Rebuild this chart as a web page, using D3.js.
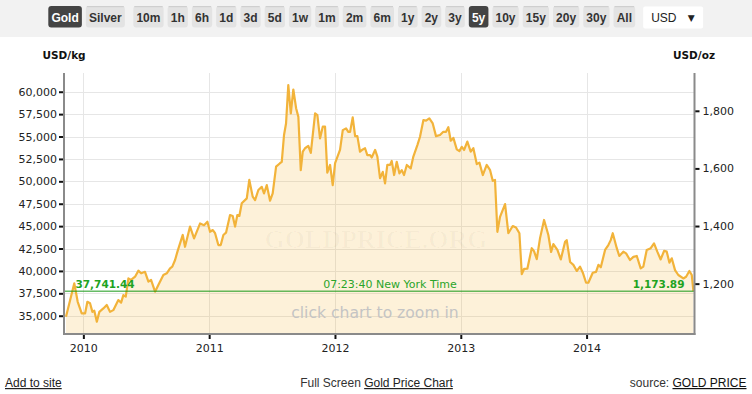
<!DOCTYPE html>
<html><head><meta charset="utf-8">
<script src="https://cdn.jsdelivr.net/npm/d3@7"></script>
<style>
body{margin:0;background:#fff;}
svg{display:block;}
</style></head><body>
<svg id="c" width="752" height="394"></svg>
<script>
// ---------- data ----------
const metals = ["Gold", "Silver"];
const ranges = ["10m","1h","6h","1d","3d","5d","1w","1m","2m","6m","1y","2y","3y","5y","10y","15y","20y","30y","All"];
const activeMetal = "Gold";
const activeRange = "5y";
const currency = "USD";

// decimal-year time of each sample
const years = [
2009.862,2009.928,2009.955,2009.987,2010.014,2010.032,2010.053,2010.072,2010.087,2010.107,
2010.127,2010.159,2010.186,2010.212,2010.238,2010.278,2010.300,2010.318,2010.337,2010.358,
2010.379,2010.411,2010.437,2010.459,2010.490,2010.517,2010.538,2010.570,2010.596,2010.636,
2010.663,2010.689,2010.707,2010.729,2010.749,2010.790,2010.808,2010.848,2010.880,2010.928,
2010.959,2010.986,2011.007,2011.029,2011.047,2011.073,2011.092,2011.113,2011.134,2011.166,
2011.187,2011.206,2011.224,2011.240,2011.259,2011.299,2011.319,2011.346,2011.365,2011.391,
2011.418,2011.436,2011.458,2011.484,2011.505,2011.532,2011.563,2011.577,2011.595,2011.611,
2011.629,2011.649,2011.669,2011.691,2011.709,2011.728,2011.744,2011.762,2011.788,2011.808,
2011.842,2011.860,2011.881,2011.903,2011.921,2011.939,2011.961,2011.982,2012.001,2012.040,
2012.062,2012.088,2012.106,2012.120,2012.141,2012.160,2012.178,2012.199,2012.221,2012.239,
2012.257,2012.279,2012.292,2012.319,2012.337,2012.358,2012.380,2012.398,2012.416,2012.438,
2012.451,2012.470,2012.491,2012.512,2012.531,2012.549,2012.571,2012.602,2012.623,2012.655,
2012.676,2012.703,2012.724,2012.750,2012.777,2012.803,2012.835,2012.861,2012.883,2012.901,
2012.920,2012.941,2012.968,2012.989,2013.008,2013.026,2013.052,2013.079,2013.100,2013.127,
2013.148,2013.175,2013.206,2013.233,2013.254,2013.272,2013.291,2013.312,2013.352,2013.378,
2013.413,2013.439,2013.466,2013.485,2013.503,2013.529,2013.564,2013.582,2013.604,2013.630,
2013.662,2013.696,2013.718,2013.736,2013.768,2013.795,2013.829,2013.842,2013.869,2013.895,
2013.922,2013.948,2013.970,2013.996,2014.014,2014.049,2014.075,2014.094,2014.113,2014.147,
2014.173,2014.192,2014.208,2014.240,2014.260,2014.292,2014.314,2014.345,2014.372,2014.399,
2014.430,2014.451,2014.478,2014.510,2014.536,2014.562,2014.589,2014.616,2014.637,2014.658,
2014.677,2014.703,2014.729,2014.769,2014.791,2014.817,2014.836,2014.849
];
// gold price, USD per troy ounce
const priceOz = [
1085,1201,1137,1097,1097,1137,1132,1102,1106,1068,
1102,1114,1126,1102,1108,1143,1134,1160,1155,1218,
1213,1224,1245,1236,1241,1207,1213,1172,1195,1230,
1236,1253,1259,1282,1313,1369,1328,1398,1357,1409,
1403,1415,1380,1386,1375,1334,1334,1369,1377,1438,
1435,1398,1438,1435,1479,1496,1560,1502,1490,1525,
1536,1513,1542,1488,1513,1606,1618,1623,1716,1756,
1889,1791,1874,1809,1779,1594,1658,1670,1678,1654,
1791,1785,1704,1745,1745,1585,1612,1542,1618,1664,
1733,1739,1727,1727,1777,1712,1712,1658,1666,1670,
1646,1646,1638,1664,1641,1566,1588,1548,1612,1612,
1626,1577,1623,1583,1594,1577,1612,1600,1641,1681,
1710,1768,1766,1774,1756,1712,1716,1727,1727,1743,
1696,1706,1666,1660,1675,1664,1693,1658,1670,1615,
1620,1577,1612,1594,1557,1560,1380,1432,1476,1375,
1400,1395,1375,1233,1251,1252,1323,1313,1285,1358,
1421,1369,1310,1337,1317,1284,1345,1351,1275,1265,
1244,1259,1238,1203,1203,1238,1241,1265,1257,1317,
1334,1351,1375,1323,1296,1311,1305,1282,1293,1296,
1253,1259,1317,1323,1340,1311,1284,1314,1311,1273,
1288,1247,1230,1218,1224,1244,1230,1173.89
];
const OZ_PER_KG = 32.1507466;
const kgTicks = [35000,37500,40000,42500,45000,47500,50000,52500,55000,57500,60000];
const ozTicks = [1200,1400,1600,1800];
const yearTicks = [2010,2011,2012,2013,2014];
const kgRange = [32960, 62090];
const lastOz = 1173.89;
const lastKg = 37741.44;
const timeLabel = "07:23:40 New York Time";
const watermark = "GOLDPRICE.ORG";
const hint = "click chart to zoom in";

// ---------- layout ----------
const W = 752, H = 394;
const L = 64, R = 694.5, T = 73, B = 334;
const svg = d3.select("#c");

// top bar
svg.append("rect").attr("x",0).attr("y",0).attr("width",W).attr("height",37).attr("fill","#f2f2f2");

const btnFont = "bold 12px 'Liberation Sans', Arial, sans-serif";
let cx = 48.3;
function button(label, active, extraGap){
  const g = svg.append("g");
  const t = g.append("text").text(label)
    .attr("y",17.5).attr("dominant-baseline","central")
    .style("font",btnFont).attr("fill", active ? "#fff" : "#333");
  const w = t.node().getComputedTextLength() + 6.25;
  g.insert("rect","text").attr("x",cx).attr("y",6).attr("width",w).attr("height",21.5)
    .attr("rx",3).attr("fill", active ? "#444" : "#e3e3e3");
  if(!active) g.insert("rect","text").attr("x",cx+1).attr("y",6).attr("width",w-2).attr("height",1.2).attr("fill","#cfcfcf");
  t.attr("x", cx + 3.1);
  cx += w + 4 + (extraGap||0);
}
metals.forEach((m,i)=>button(m, m===activeMetal, i===metals.length-1 ? 4.5 : 0));
ranges.forEach(r=>button(r, r===activeRange, 0));
// currency select
svg.append("rect").attr("x",cx+4).attr("y",6.5).attr("width",60).attr("height",22).attr("rx",2).attr("fill","#fff");
svg.append("text").text(currency).attr("x",cx+12).attr("y",17.5).attr("dominant-baseline","central")
  .style("font","12px 'Liberation Sans', Arial, sans-serif").attr("fill","#222");
svg.append("text").text("▼").attr("x",cx+52).attr("y",17.5).attr("dominant-baseline","central").attr("text-anchor","middle")
  .style("font","9px 'DejaVu Sans', sans-serif").attr("fill","#222");

// scales
const x = d3.scaleLinear().domain(d3.extent(years)).range([66, 693.4]);
const y = d3.scaleLinear().domain(kgRange).range([B, T]);
const yOz = d3.scaleLinear().domain(kgRange.map(v=>v/OZ_PER_KG)).range([B, T]);
const data = years.map((t,i)=>({t, kg: priceOz[i]*OZ_PER_KG}));

// grid
const grid = svg.append("g");
grid.selectAll(".h").data(kgTicks).join("line")
  .attr("x1",L).attr("x2",R).attr("y1",d=>Math.round(y(d))+0.5).attr("y2",d=>Math.round(y(d))+0.5)
  .attr("stroke","#e6e6e6").attr("stroke-width",1);
grid.selectAll(".v").data(yearTicks).join("line")
  .attr("x1",d=>Math.round(x(d))+0.5).attr("x2",d=>Math.round(x(d))+0.5).attr("y1",T).attr("y2",B)
  .attr("stroke","#e6e6e6").attr("stroke-width",1);

// watermark
svg.append("text").text(watermark).attr("x",376).attr("y",239).attr("text-anchor","middle")
  .attr("dominant-baseline","central")
  .style("font","bold 26px 'Liberation Serif', serif").attr("fill","#000").attr("fill-opacity",0.028);

// area + line
svg.append("path").datum(data)
  .attr("d", d3.area().x(d=>x(d.t)).y0(B).y1(d=>y(d.kg)))
  .attr("fill","#f2b236").attr("fill-opacity",0.19);
svg.append("path").datum(data)
  .attr("d", d3.line().x(d=>x(d.t)).y(d=>y(d.kg)))
  .attr("fill","none").attr("stroke","#f2b33a").attr("stroke-width",2.2).attr("stroke-linejoin","round");

// current price line
const gy = y(lastKg);
svg.append("line").attr("x1",L).attr("x2",R).attr("y1",gy).attr("y2",gy).attr("stroke","#189818").attr("stroke-width",1);
svg.append("text").text(d3.format(",.2f")(lastKg)).attr("x",75.5).attr("y",gy-7).attr("dominant-baseline","central")
  .style("font","bold 10.5px 'DejaVu Sans', sans-serif").attr("fill","#1fa31f");
svg.append("text").text(d3.format(",.2f")(lastOz)).attr("x",684.5).attr("y",gy-7).attr("text-anchor","end").attr("dominant-baseline","central")
  .style("font","bold 10.5px 'DejaVu Sans', sans-serif").attr("fill","#1fa31f");
svg.append("text").text(timeLabel).attr("x",390).attr("y",gy-7).attr("text-anchor","middle").attr("dominant-baseline","central")
  .style("font","11px 'DejaVu Sans', sans-serif").attr("fill","#2aa52a");
svg.append("text").text(hint).attr("x",375).attr("y",313).attr("text-anchor","middle").attr("dominant-baseline","central")
  .style("font","15.6px 'DejaVu Sans', sans-serif").attr("fill","#c4c4c4");

// axes
const tickFont = "11px 'DejaVu Sans', sans-serif";
const ax = svg.append("g").attr("transform",`translate(${L},0)`)
  .call(d3.axisLeft(y).tickValues(kgTicks).tickFormat(d3.format(",")).tickSize(5).tickPadding(2));
const ar = svg.append("g").attr("transform",`translate(${R},0)`)
  .call(d3.axisRight(yOz).tickValues(ozTicks).tickFormat(d3.format(",")).tickSize(5).tickPadding(3));
const ab = svg.append("g").attr("transform",`translate(0,${B})`)
  .call(d3.axisBottom(x).tickValues(yearTicks).tickFormat(d3.format("d")).tickSize(5).tickPadding(5));
[ax,ar,ab].forEach(g=>{
  g.select(".domain").remove();
  g.selectAll(".tick line").attr("stroke","#111").attr("stroke-width",2);
  g.selectAll(".tick text").style("font",tickFont).attr("fill","#222");
});
// frame lines
svg.append("line").attr("x1",L).attr("x2",L).attr("y1",T).attr("y2",B+1).attr("stroke","#8a8a8a").attr("stroke-width",2);
svg.append("line").attr("x1",R).attr("x2",R).attr("y1",T).attr("y2",B+1).attr("stroke","#8a8a8a").attr("stroke-width",2);
svg.append("line").attr("x1",L-1).attr("x2",R+1).attr("y1",B).attr("y2",B).attr("stroke","#8a8a8a").attr("stroke-width",2);

// axis titles
svg.append("text").text("USD/kg").attr("x",42.5).attr("y",55).attr("dominant-baseline","central")
  .style("font","bold 10.5px 'DejaVu Sans', sans-serif").attr("fill","#111");
svg.append("text").text("USD/oz").attr("x",715).attr("y",55).attr("text-anchor","end").attr("dominant-baseline","central")
  .style("font","bold 10.5px 'DejaVu Sans', sans-serif").attr("fill","#111");

// footer
const ff = "12px 'Liberation Sans', Arial, sans-serif";
svg.append("text").text("Add to site").attr("x",5).attr("y",387).style("font",ff).style("text-decoration","underline").attr("fill","#222");
const mid = svg.append("text").attr("x",376.5).attr("y",387).attr("text-anchor","middle").style("font",ff).attr("fill","#333");
mid.append("tspan").text("Full Screen ");
mid.append("tspan").text("Gold Price Chart").style("text-decoration","underline").attr("fill","#222");
const src = svg.append("text").attr("x",746.5).attr("y",387).attr("text-anchor","end").style("font",ff).attr("fill","#333");
src.append("tspan").text("source: ");
src.append("tspan").text("GOLD PRICE").style("text-decoration","underline").attr("fill","#111");
</script>
</body></html>
